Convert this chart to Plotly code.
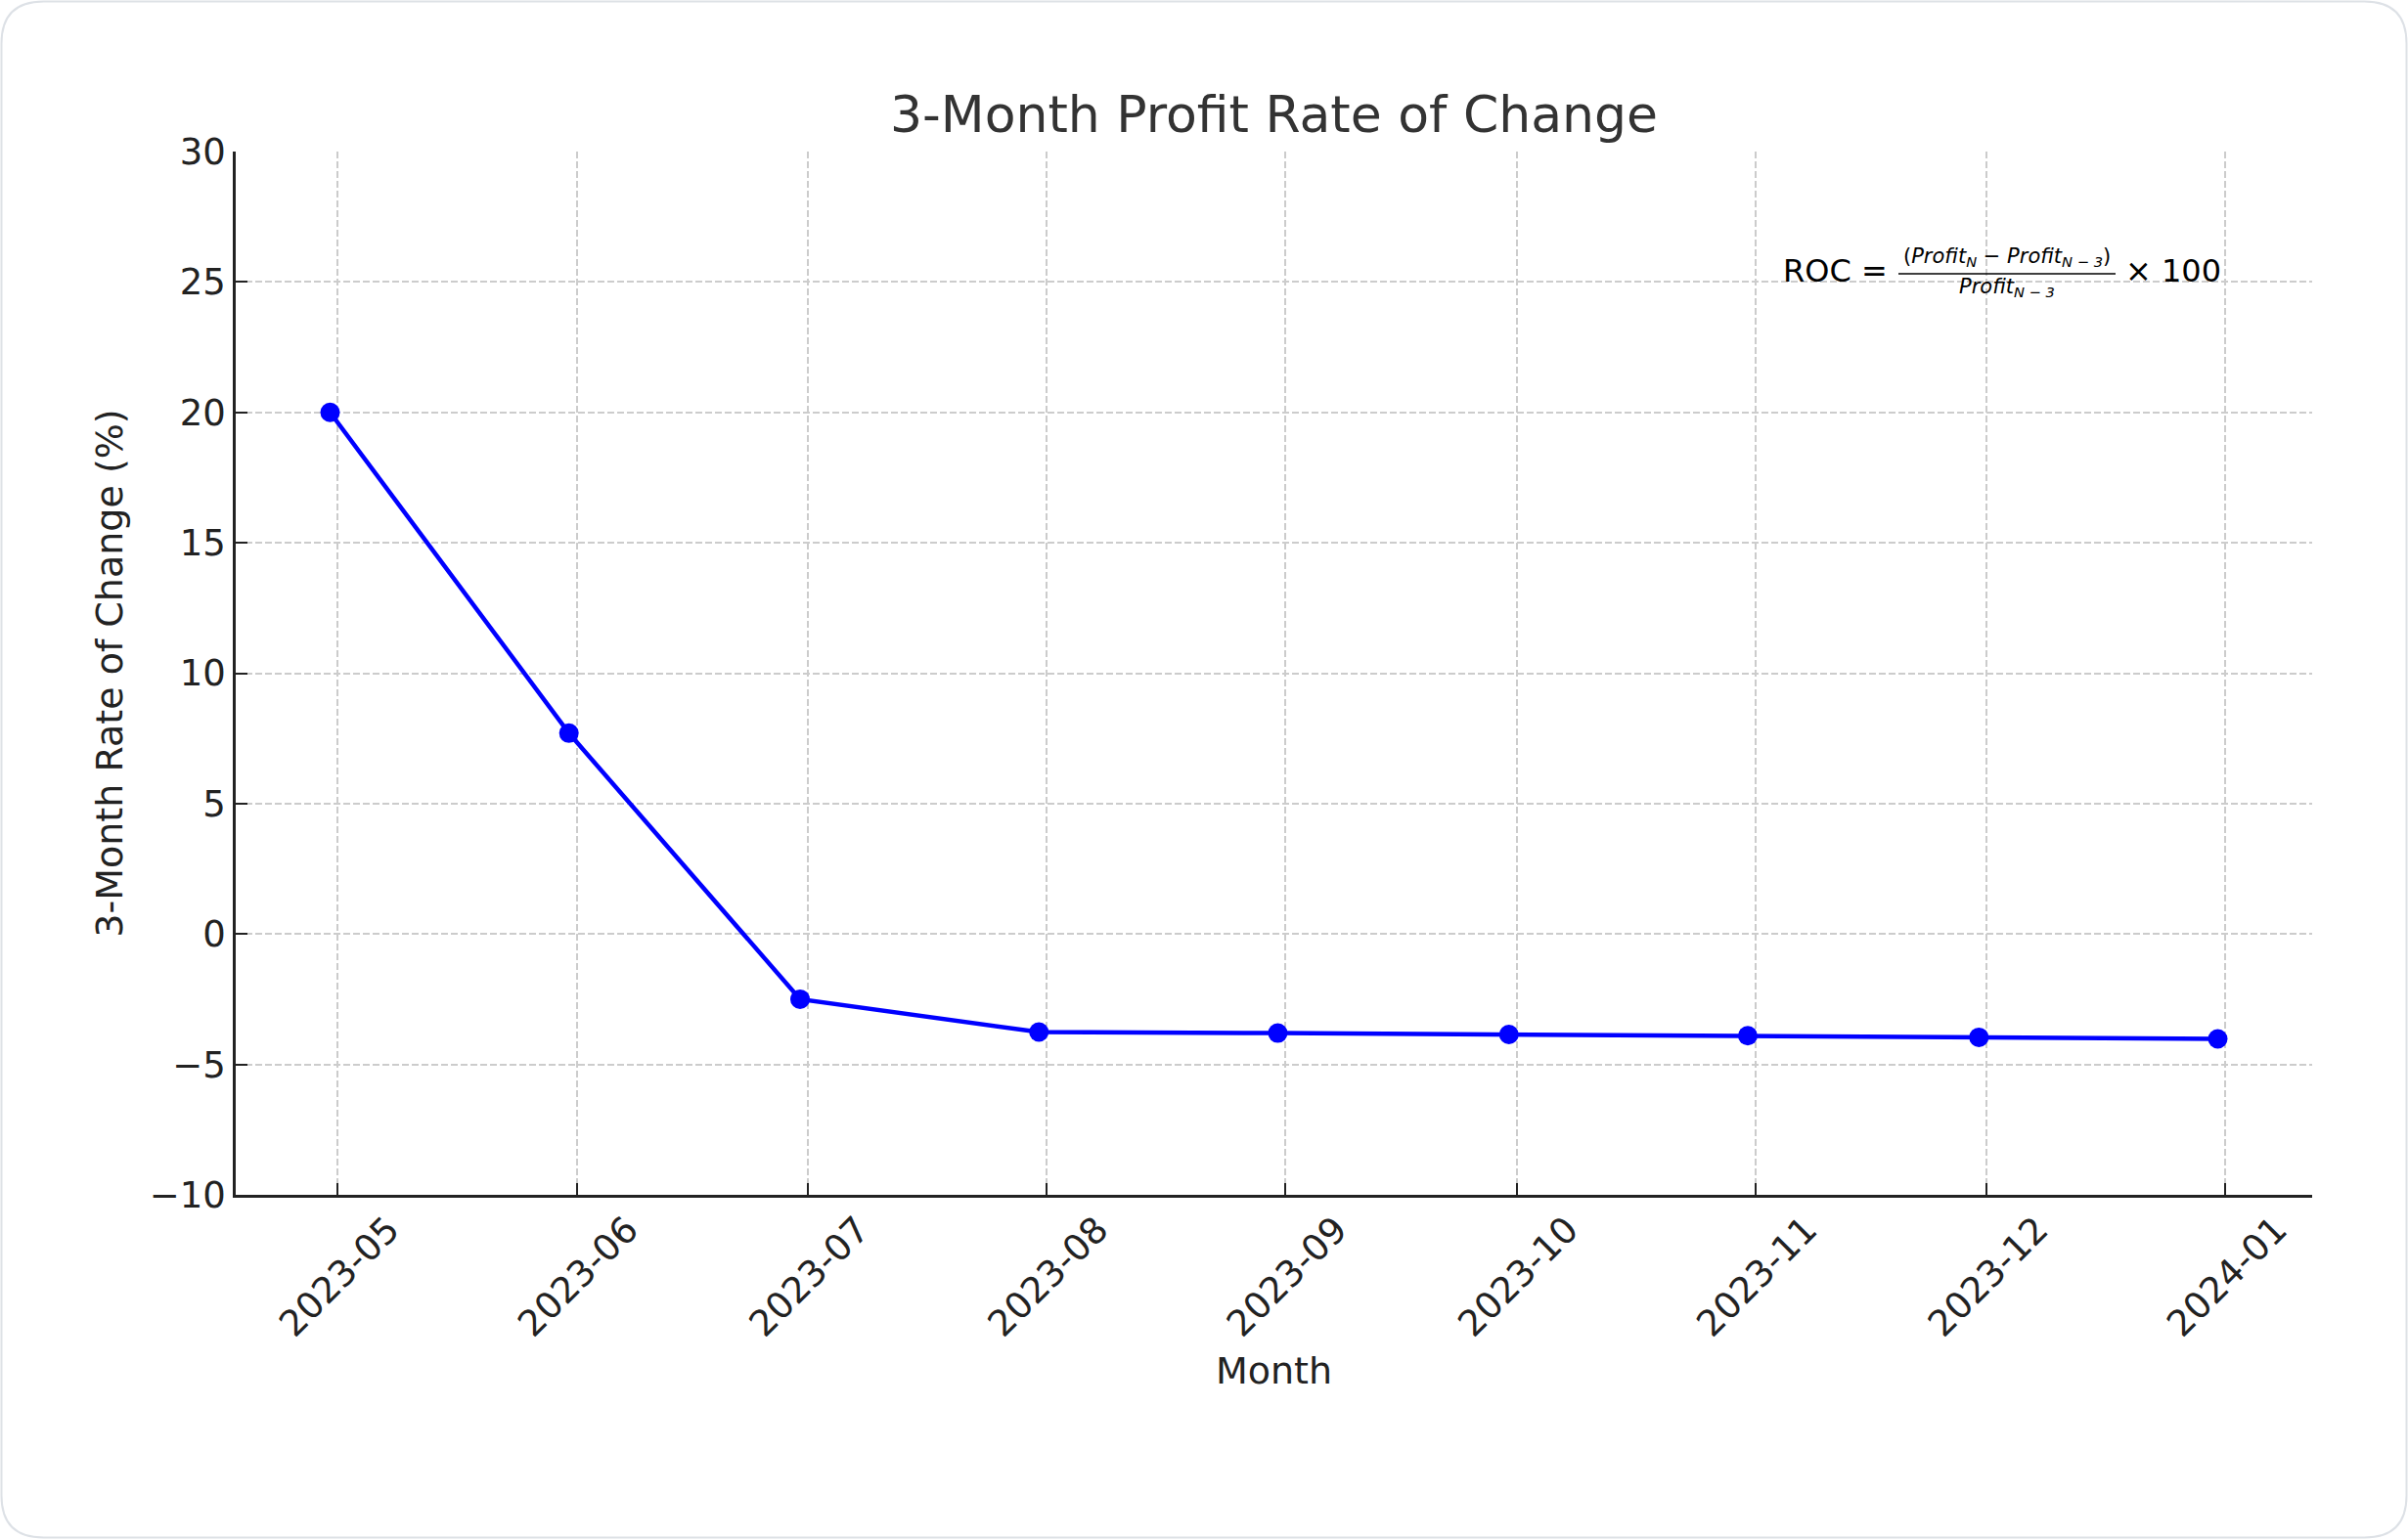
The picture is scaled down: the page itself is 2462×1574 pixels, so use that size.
import plotly.graph_objects as go

# Month-end dates of each 3-month rate of change reading
dates = ["2023-04-30", "2023-05-31", "2023-06-30", "2023-07-31", "2023-08-31",
         "2023-09-30", "2023-10-31", "2023-11-30", "2023-12-31"]
roc_values = [20.0, 7.7, -2.5, -3.76, -3.8, -3.85, -3.9, -3.96, -4.02]

tick_months = ["2023-05", "2023-06", "2023-07", "2023-08", "2023-09",
               "2023-10", "2023-11", "2023-12", "2024-01"]
tick_dates = [m + "-01" for m in tick_months]

W, H = 2462, 1574
L, R, T, B = 241, 98, 155, 352
pw, ph = W - L - R, H - T - B


def px_x(v):
    return (v - L) / pw


def px_y(v):
    return (H - B - v) / ph


font_main = "DejaVu Sans"
ink = "#222222"
grid = "#cccccc"

fig = go.Figure()
fig.add_trace(go.Scatter(
    x=dates, y=roc_values,
    mode="lines+markers",
    line=dict(color="#0000ff", width=4.5),
    marker=dict(color="#0000ff", size=20),
    showlegend=False,
))

fig.update_layout(
    width=W, height=H,
    margin=dict(l=L, r=R, t=T, b=B),
    paper_bgcolor="white",
    plot_bgcolor="white",
    font=dict(family=font_main, color=ink, size=37),
    title=dict(text="3-Month Profit Rate of Change", x=0.5, xref="paper",
               y=1 - 117 / H, yref="container", yanchor="middle", xanchor="center",
               font=dict(size=52, color="#333333")),
)

fig.update_xaxes(
    type="date",
    range=["2023-04-17 18:00", "2024-01-12 06:00"],
    tickvals=tick_dates, ticktext=tick_months, tickangle=-45,
    ticklabelshift=52, ticklabelstandoff=-4,
    tickfont=dict(size=37, color=ink),
    ticks="inside", ticklen=12, tickwidth=2, tickcolor=ink,
    showline=True, linecolor=ink, linewidth=2.7,
    showgrid=True, gridcolor=grid, gridwidth=1.5, griddash="7px,3px",
    zeroline=False,
    title=dict(text="Month", font=dict(size=38, color=ink), standoff=14),
)
fig.update_yaxes(
    range=[-10, 30], tick0=0, dtick=5,
    tickfont=dict(size=37, color=ink),
    ticks="inside", ticklen=12, tickwidth=2, tickcolor=ink,
    showline=True, linecolor=ink, linewidth=2.7,
    showgrid=True, gridcolor=grid, gridwidth=1.5, griddash="7px,3px",
    zeroline=False,
    title=dict(text="3-Month Rate of Change (%)", font=dict(size=38, color=ink), standoff=16),
)

# ROC formula, built as a stacked fraction
fcol = "black"
fig.add_annotation(xref="paper", yref="paper", x=px_x(1932), y=px_y(277),
                   xanchor="right", yanchor="middle", showarrow=False,
                   text="ROC =", font=dict(size=32, color=fcol))
fig.add_annotation(xref="paper", yref="paper", x=px_x(2052), y=px_y(263),
                   xanchor="center", yanchor="middle", showarrow=False,
                   text="(<i>Profit</i><sub><i>N</i></sub> − <i>Profit</i><sub><i>N − 3</i></sub>)",
                   font=dict(size=21, color=fcol))
fig.add_annotation(xref="paper", yref="paper", x=px_x(2052), y=px_y(294),
                   xanchor="center", yanchor="middle", showarrow=False,
                   text="<i>Profit</i><sub><i>N − 3</i></sub>",
                   font=dict(size=21, color=fcol))
fig.add_annotation(xref="paper", yref="paper", x=px_x(2171), y=px_y(277),
                   xanchor="left", yanchor="middle", showarrow=False,
                   text="× 100", font=dict(size=32, color=fcol))
fig.add_shape(type="line", xref="paper", yref="paper",
              x0=px_x(1941), x1=px_x(2163), y0=px_y(280), y1=px_y(280),
              line=dict(color=fcol, width=1.5))

# rounded outer border of the card
x0, x1 = px_x(1.5), px_x(W - 1.5)
y0, y1 = px_y(H - 1.5), px_y(1.5)
rx, ry = 43 / pw, 43 / ph
border = (f"M {x0 + rx},{y1} L {x1 - rx},{y1} Q {x1},{y1} {x1},{y1 - ry} "
          f"L {x1},{y0 + ry} Q {x1},{y0} {x1 - rx},{y0} "
          f"L {x0 + rx},{y0} Q {x0},{y0} {x0},{y0 + ry} "
          f"L {x0},{y1 - ry} Q {x0},{y1} {x0 + rx},{y1} Z")
fig.add_shape(type="path", xref="paper", yref="paper", path=border,
              line=dict(color="#dde1e6", width=2), layer="below")

fig.write_html("out.html", config={"displayModeBar": False},
               post_script="document.body.style.margin = '0';")
